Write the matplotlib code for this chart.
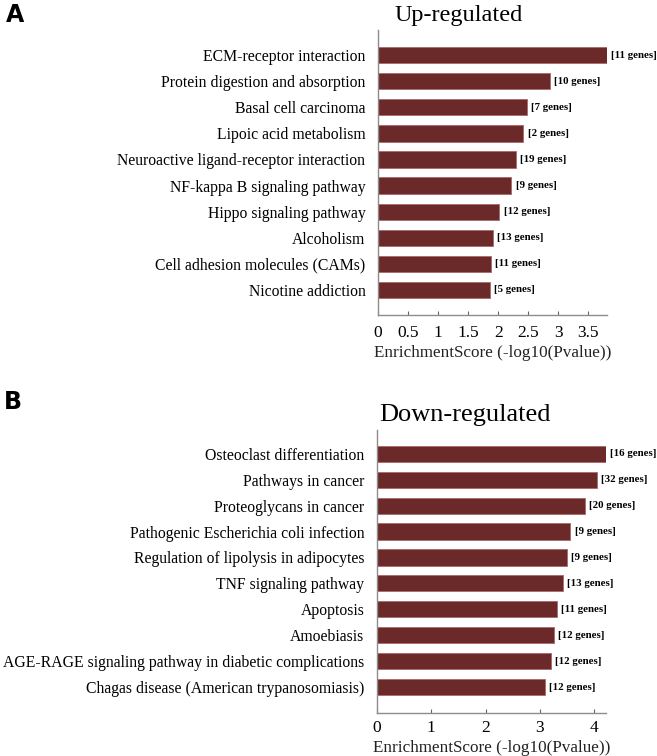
import matplotlib
matplotlib.use('Agg')
import matplotlib.pyplot as plt
from matplotlib.ticker import MultipleLocator, FormatStrFormatter

# ── Data ────────────────────────────────────────────────────
up_terms = ['ECM-receptor interaction', 'Protein digestion and absorption',
            'Basal cell carcinoma', 'Lipoic acid metabolism',
            'Neuroactive ligand-receptor interaction', 'NF-kappa B signaling pathway',
            'Hippo signaling pathway', 'Alcoholism',
            'Cell adhesion molecules (CAMs)', 'Nicotine addiction']
up_scores = [3.81, 2.86, 2.48, 2.42, 2.29, 2.22, 2.02, 1.91, 1.88, 1.86]
up_genes = [11, 10, 7, 2, 19, 9, 12, 13, 11, 5]

down_terms = ['Osteoclast differentiation', 'Pathways in cancer',
              'Proteoglycans in cancer', 'Pathogenic Escherichia coli infection',
              'Regulation of lipolysis in adipocytes', 'TNF signaling pathway',
              'Apoptosis', 'Amoebiasis',
              'AGE-RAGE signaling pathway in diabetic complications',
              'Chagas disease (American trypanosomiasis)']
down_scores = [4.21, 4.04, 3.83, 3.56, 3.50, 3.42, 3.31, 3.25, 3.21, 3.10]
down_genes = [16, 32, 20, 9, 9, 13, 11, 12, 12, 12]

BAR_COLOR = '#6b2929'
EDGE_COLOR = '#a86a6a'
SPINE_COLOR = '#8c8c8c'
SERIF = ['Liberation Serif', 'DejaVu Serif']

fig = plt.figure(figsize=(6.57, 7.56), dpi=100)


def draw_panel(rect, terms, scores, genes, title, step, title_x, title_y,
               title_size, ylim, tick_pad):
    ax = fig.add_axes(rect)
    n = len(terms)
    ypos = list(range(n - 1, -1, -1))
    ax.barh(ypos, scores, height=0.62, color=BAR_COLOR,
            edgecolor=EDGE_COLOR, linewidth=0.6)
    for y, s, g in zip(ypos, scores, genes):
        ax.text(s + 0.018 * max(scores), y, f'[{g} genes]',
                family=SERIF, fontsize=7.8, fontweight='bold',
                ha='left', va='center')
    ax.set_yticks(ypos)
    ax.set_yticklabels(terms, family=SERIF, fontsize=11.3)
    ax.set_ylim(*ylim)
    ax.set_xlim(0, max(scores))
    ax.xaxis.set_major_locator(MultipleLocator(step))
    ax.xaxis.set_major_formatter(FormatStrFormatter('%g'))
    for lab in ax.get_xticklabels():
        lab.set_family(SERIF)
    ax.tick_params(axis='x', direction='in', length=3, color='#666',
                   labelsize=12.5, pad=tick_pad)
    ax.tick_params(axis='y', length=0, pad=9)
    for side in ['top', 'right']:
        ax.spines[side].set_visible(False)
    for side in ['left', 'bottom']:
        ax.spines[side].set_color(SPINE_COLOR)
        ax.spines[side].set_linewidth(1.0)
    ax.set_xlabel('EnrichmentScore (-log10(Pvalue))', family=SERIF,
                  fontsize=12.3, labelpad=3, color='#222')
    fig.text(title_x, title_y, title, family=SERIF, fontsize=title_size,
             ha='center', va='baseline')
    return ax


draw_panel([0.5753, 0.5833, 0.3486, 0.377], up_terms, up_scores, up_genes,
           'Up-regulated', 0.5, 459 / 657, 1 - 21 / 756, 17.5,
           (-0.97, 9.97), 7)
draw_panel([0.5734, 0.0573, 0.3486, 0.3739], down_terms, down_scores, down_genes,
           'Down-regulated', 1, 465 / 657, 1 - 421 / 756, 19,
           (-0.98, 9.91), 5)

fig.text(6 / 657, 1 - 22 / 756, 'A', fontsize=17, fontweight='bold',
         family='DejaVu Sans', ha='left', va='baseline')
fig.text(4 / 657, 1 - 409 / 756, 'B', fontsize=17, fontweight='bold',
         family='DejaVu Sans', ha='left', va='baseline')

fig.savefig('out.png', dpi=100)
